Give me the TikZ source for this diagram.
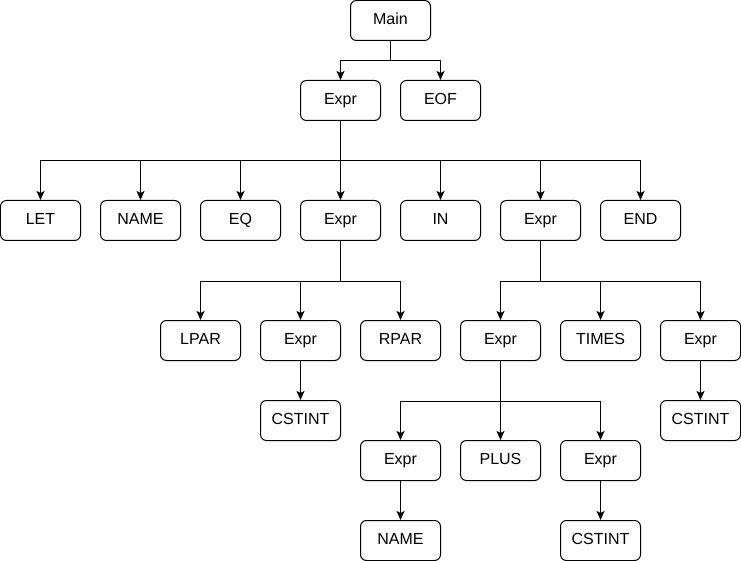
\documentclass[tikz,border=0pt]{standalone}
\usepackage{fontspec}
\setmainfont{Liberation Sans}
\usetikzlibrary{arrows.meta}

\tikzset{
	tok/.style = {draw, line width=1pt, rounded corners=6pt, minimum width=80pt, minimum height=40pt, inner sep=0pt, text height=0.78em, text depth=0em, font=\fontsize{16}{19}\selectfont},
	link/.style = {line width=1pt, -{Stealth[length=9pt, width=8pt, inset=2pt]}}
}

\begin{document}
\begin{tikzpicture}[x = 1pt, y = -1pt]
		\useasboundingbox (-0.5,-0.5) rectangle (740.5,560.5);

		\node[tok] (main) at (390,20) {Main};

		\node[tok] (e0) at (340,100) {Expr};
		\node[tok] (eof) at (440,100) {EOF};

		\node[tok] (let) at (40,220) {LET};
		\node[tok] (nm0) at (140,220) {NAME};
		\node[tok] (eq) at (240,220) {EQ};
		\node[tok] (e1) at (340,220) {Expr};
		\node[tok] (in) at (440,220) {IN};
		\node[tok] (e2) at (540,220) {Expr};
		\node[tok] (end) at (640,220) {END};

		\node[tok] (lpar) at (200,340) {LPAR};
		\node[tok] (e3) at (300,340) {Expr};
		\node[tok] (rpar) at (400,340) {RPAR};
		\node[tok] (e4) at (500,340) {Expr};
		\node[tok] (times) at (600,340) {TIMES};
		\node[tok] (e5) at (700,340) {Expr};

		\node[tok] (cst0) at (300,420) {CSTINT};
		\node[tok] (cst1) at (700,420) {CSTINT};

		\node[tok] (e6) at (400,460) {Expr};
		\node[tok] (plus) at (500,460) {PLUS};
		\node[tok] (e7) at (600,460) {Expr};

		\node[tok] (nm1) at (400,540) {NAME};
		\node[tok] (cst2) at (600,540) {CSTINT};

		% Main
		\foreach \c in {e0, eof}
			\draw[link] (main.south) -- ++(0,20) -| (\c.north);

		% let ... in ... end
		\foreach \c in {let, nm0, eq, e1, in, e2, end}
			\draw[link] (e0.south) -- ++(0,40) -| (\c.north);

		% ( ... )
		\foreach \c in {lpar, e3, rpar}
			\draw[link] (e1.south) -- ++(0,40) -| (\c.north);

		% ... * ...
		\foreach \c in {e4, times, e5}
			\draw[link] (e2.south) -- ++(0,40) -| (\c.north);

		% ... + ...
		\foreach \c in {e6, plus, e7}
			\draw[link] (e4.south) -- ++(0,40) -| (\c.north);

		\draw[link] (e3) -- (cst0);
		\draw[link] (e5) -- (cst1);
		\draw[link] (e6) -- (nm1);
		\draw[link] (e7) -- (cst2);
\end{tikzpicture}
\end{document}
